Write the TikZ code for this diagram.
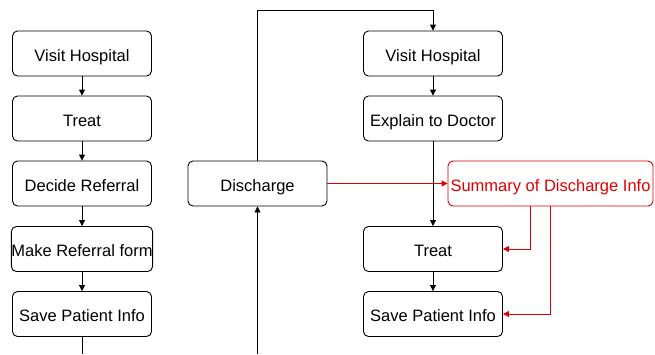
\documentclass[tikz,border=0pt]{standalone}
\usepackage{fontspec}
\setmainfont{Liberation Sans}
\usetikzlibrary{arrows.meta}
\definecolor{alert}{RGB}{222,0,0}
\begin{document}
\begin{tikzpicture}[x=1pt,y=-1pt,
  stepbox/.style={draw=black,line width=0.9pt,rounded corners=5pt,minimum width=139pt,minimum height=45pt,inner sep=0pt,text height=15.5pt,text depth=0pt,font=\fontsize{16.5}{18}\selectfont,text=black},
  infobox/.style={stepbox,draw=alert,text=alert,minimum width=205pt},
  flow/.style={draw=black,line width=0.9pt,-{Triangle[length=6pt,width=6pt]}},
  plain/.style={draw=black,line width=0.9pt},
  redflow/.style={draw=alert,line width=0.9pt,-{Triangle[length=6pt,width=6pt]}}]
\useasboundingbox (0,0) rectangle (655,354);
% left column
\node[stepbox] (l1) at (82,53.5) {Visit Hospital};
\node[stepbox] (l2) at (82,118.5) {Treat};
\node[stepbox] (l3) at (82,183.5) {Decide Referral};
\node[stepbox] (l4) at (82,249) {Make Referral form};
\node[stepbox] (l5) at (82,314) {Save Patient Info};
\coordinate (lend) at (82,354);
% discharge
\node[stepbox] (dis) at (257.5,183.5) {Discharge};
\coordinate (dend) at (257.5,354);
\coordinate (top) at (257.5,10.5);
% right column
\node[stepbox] (r1) at (433,53.5) {Visit Hospital};
\node[stepbox] (r2) at (433,118.5) {Explain to Doctor};
\node[stepbox] (r3) at (433,249) {Treat};
\node[stepbox] (r4) at (433,314) {Save Patient Info};
\node[infobox] (sum) at (550.5,183.5) {Summary of Discharge Info};
% connectors
\draw[flow] (l1) -- (l2);
\draw[flow] (l2) -- (l3);
\draw[flow] (l3) -- (l4);
\draw[flow] (l4) -- (l5);
\draw[plain] (l5) -- (lend);
\draw[flow] (dend) -- (dis);
\draw[flow] (dis.north) -- (top) -| (r1.north);
\draw[flow] (r1) -- (r2);
\draw[flow] (r2) -- (r3);
\draw[flow] (r3) -- (r4);
\draw[redflow] (dis) -- (sum);
\draw[redflow] (sum.south -| 530,0) |- (r3.east);
\draw[redflow] (sum.south -| 550.5,0) |- (r4.east);
\end{tikzpicture}
\end{document}
